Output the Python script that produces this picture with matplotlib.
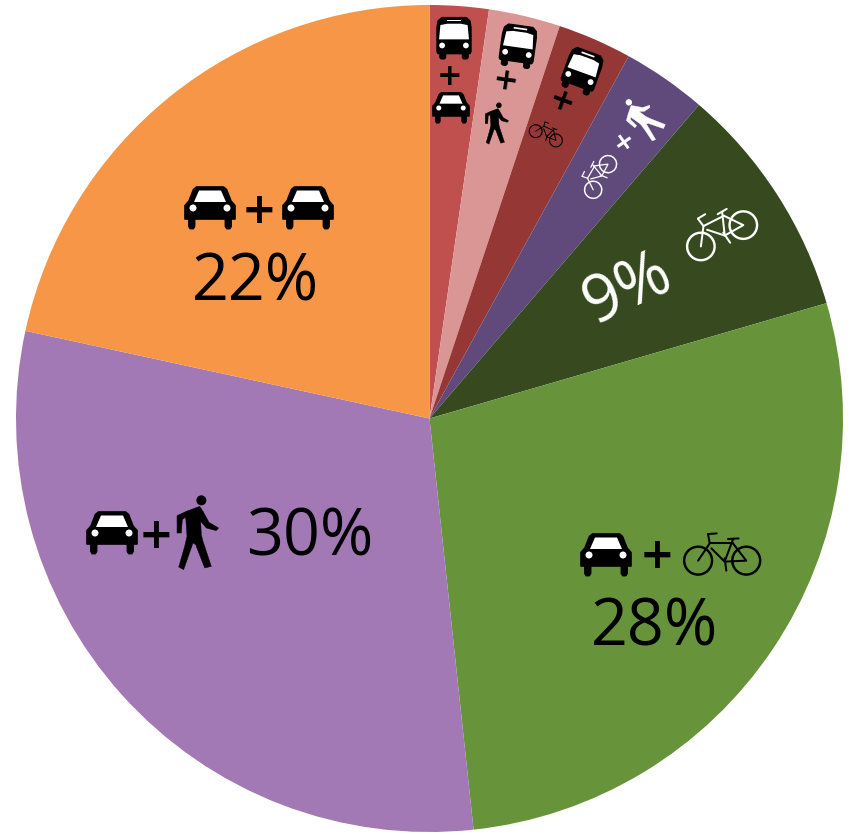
import matplotlib
matplotlib.use("Agg")
import matplotlib.pyplot as plt
from matplotlib.patches import Circle, Polygon
from matplotlib.transforms import Affine2D

W, H = 850, 833
modes = ["bus+car", "bus+walk", "bus+bike", "bike+walk", "bike", "car+bike", "car+walk", "car+car"]
shares = [2.3, 2.8, 2.9, 3.3, 9.2, 27.8, 30.1, 21.6]
colors = ["#C0504D", "#D99694", "#953735", "#604A7B", "#374A1F", "#67933B", "#A279B5", "#F79646"]
labels = ["22%", "30%", "28%", "9%"]

plt.rcParams["font.family"] = ["Open Sans", "DejaVu Sans"]
fig = plt.figure(figsize=(W / 100, H / 100), dpi=100)
ax = fig.add_axes([0, 0, 1, 1])
ax.pie(shares, colors=colors, startangle=90, counterclock=False, radius=413.5,
       center=(429.5, H - 418.5), wedgeprops=dict(linewidth=0), frame=False)
ax.set_xlim(0, W)
ax.set_ylim(0, H)
ax.set_aspect("equal")
ax.axis("off")


def tf(x, y, s, rot):
    return Affine2D().scale(s).rotate_deg(rot).translate(x, H - y) + ax.transData


def poly(pts, t, c, lw=0.6):
    ax.add_patch(Polygon(pts, closed=True, fc=c, ec=c, lw=lw, joinstyle="round", transform=t))


def circ(xy, r, t, c, fill=True, lw=0):
    ax.add_patch(Circle(xy, r, fc=c if fill else "none", ec=c, lw=lw, transform=t))


def car(x, y, w, rot=0, c="black"):
    t = tf(x, y, w, rot)
    poly([(-.27, .42), (.27, .42), (.33, .37), (.42, .14), (.5, .05), (.5, -.22), (-.5, -.22),
          (-.5, .05), (-.42, .14), (-.33, .37)], t, c, 1.2)
    for sx in (-1, 1):
        poly([(sx * .30, -.2), (sx * .43, -.2), (sx * .43, -.37), (sx * .40, -.42),
              (sx * .33, -.42), (sx * .30, -.37)], t, c)
        circ((sx * .34, 0.0), .07, t, "white")
    poly([(-.22, .35), (.22, .35), (.32, .12), (-.32, .12)], t, "white", 0)


def bus(x, y, w, rot=0, c="black"):
    t = tf(x, y, w, rot)
    poly([(-.36, .6), (.36, .6), (.47, .5), (.5, .3), (.5, -.4), (.47, -.46), (-.47, -.46),
          (-.5, -.4), (-.5, .3), (-.47, .5)], t, c, 1.0)
    for sx in (-1, 1):
        poly([(sx * .24, -.44), (sx * .42, -.44), (sx * .42, -.58), (sx * .38, -.62),
              (sx * .28, -.62), (sx * .24, -.58)], t, c)
        circ((sx * .35, -.22), .085, t, "white")
    poly([(-.40, .38), (-.2, .42), (.2, .42), (.40, .38), (.44, -.04), (-.44, -.04)], t, "white", 0)
    poly([(-.2, .54), (.2, .54), (.2, .49), (-.2, .49)], t, "white", 0)


WALK = [(322, 108), (322, 160), (335, 160), (338, 120), (348, 112), (352, 170), (345, 200),
        (327, 262), (342, 270), (370, 190), (378, 195), (405, 265), (425, 260), (400, 185),
        (395, 165), (393, 125), (410, 145), (440, 153), (447, 145), (418, 128), (400, 95),
        (390, 80), (350, 95)]


def walker(x, y, h, rot=0, c="black"):
    t = tf(x, y, h, rot)
    poly([((a - 385) / 225, (157 - b) / 225) for a, b in WALK], t, c, 0.3)
    circ(((395 - 385) / 225, (157 - 62) / 225), 15 / 225, t, c)


BIKE = [[(415, 42), (420, 70), (385, 122)], [(420, 70), (490, 70)], [(490, 58), (465, 125)],
        [(425, 85), (465, 125), (530, 122), (490, 70)], [(415, 42), (441, 40)], [(475, 57), (507, 55)],
        [(465, 115), (470, 152)]]


def bike(x, y, w, rot=0, c="black"):
    t = tf(x, y, w, rot)
    lw = w * 0.72 * 0.026
    for cx in (385, 530):
        circ(((cx - 457) / 235, (102 - 122) / 235), 42 / 235, t, c, fill=False, lw=lw * 1.2)
    for seg in BIKE:
        ax.plot([(a - 457) / 235 for a, b in seg], [(102 - b) / 235 for a, b in seg],
                color=c, lw=lw, transform=t, solid_capstyle="round")


def plus(x, y, size, rot=0, c="black"):
    ax.text(x, H - y, "+", fontsize=size, color=c, fontweight="bold", family="DejaVu Sans",
            ha="center", va="center_baseline", rotation=rot, rotation_mode="anchor")


# orange
car(210, 208, 50); plus(259, 206, 30); car(308, 208, 50)
# purple
car(112, 533, 50); plus(156, 532, 30); walker(198, 532, 75)
# green
car(606, 555, 50); plus(657, 552, 30); bike(722, 554, 78)
# dark green
bike(719, 230, 77, 26.7, "white")
# bus + car
bus(454, 38, 34); plus(450, 73, 22); car(451, 108, 36)
# bus + walk
bus(518, 46, 34, -8); plus(506, 78, 22, -8); walker(497, 123, 42)
# bus + bike
bus(582, 71, 34, -20); plus(563, 100, 22, -20); bike(547, 133, 36, -24.6)
# bike + walk
bike(597, 175, 48, 60, "white"); plus(622, 139, 18, 35, "white"); walker(643, 117, 48, 50, "white")

pos = [(256, 283, 0, "black"), (310, 538, 0, "black"), (655, 628, 0, "black"), (628, 290, 25, "white")]
for lab, (x, y, r, c) in zip(labels, pos):
    ax.text(x, H - y, lab, fontsize=46.5, color=c, ha="center", va="center",
            rotation=r, rotation_mode="anchor")

fig.savefig("out.png", dpi=100)
